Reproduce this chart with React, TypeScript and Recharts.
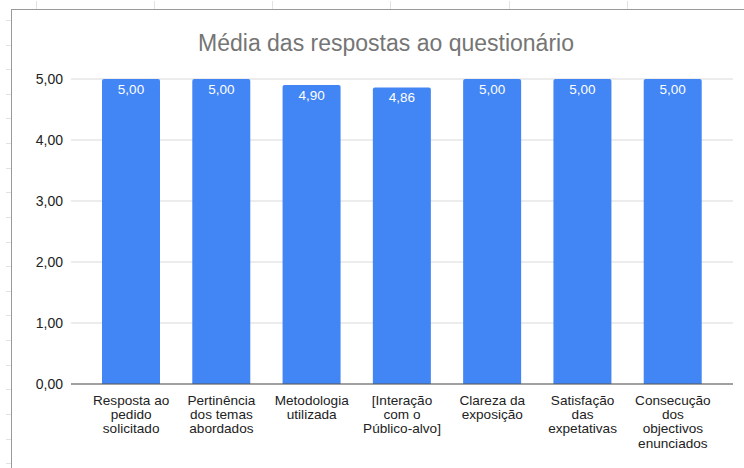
import { BarChart, Bar, XAxis, YAxis, CartesianGrid, LabelList } from "recharts";

const categories = [
  "Resposta ao\npedido\nsolicitado",
  "Pertinência\ndos temas\nabordados",
  "Metodologia\nutilizada",
  "[Interação\ncom o\nPúblico-alvo]",
  "Clareza da\nexposição",
  "Satisfação\ndas\nexpetativas",
  "Consecução\ndos\nobjectivos\nenunciados",
];
const averages = [5, 5, 4.9, 4.86, 5, 5, 5];
const yTicks = [0, 1, 2, 3, 4, 5];

const data = categories.map((name, i) => ({ name, value: averages[i] }));

const font = "Arial, 'Liberation Sans', sans-serif";
const fmt = (v: number) => v.toFixed(2).replace(".", ",");

function CategoryTick(props: any) {
  const { x, y, payload } = props;
  const lines = String(payload.value).split("\n");
  return (
    <text x={x} y={y + 9} textAnchor="middle" fontSize={13.6} fill="#222" fontFamily={font}>
      {lines.map((l, i) => (
        <tspan key={i} x={x} dy={i === 0 ? 4 : 14.2}>
          {l}
        </tspan>
      ))}
    </text>
  );
}

// spreadsheet cells peeking around the chart box
const colLines = [36, 154, 272, 390, 509, 627];
const rowLines = Array.from({ length: 19 }, (_, i) => 20 + i * 24.62);

export default function App() {
  return (
    <div style={{ position: "absolute", left: 0, top: 0, width: 744, height: 468, overflow: "hidden", background: "#fff" }}>
      {colLines.map((x) => (
        <div key={x} style={{ position: "absolute", left: x, top: 1, width: 1, height: 8, background: "#e2e2e2" }} />
      ))}
      {rowLines.map((y) => (
        <div key={y} style={{ position: "absolute", left: 6, top: Math.round(y), width: 6, height: 1, background: "#e2e2e2" }} />
      ))}
      <div
        style={{
          position: "absolute",
          left: 11,
          top: 9,
          width: 800,
          height: 500,
          border: "1.5px solid #999",
          background: "#fff",
        }}
      />
      <div
        style={{
          position: "absolute",
          left: 0,
          width: 772,
          top: 30,
          textAlign: "center",
          fontFamily: font,
          fontSize: 23,
          color: "#757575",
          lineHeight: "26px",
        }}
      >
        Média das respostas ao questionário
      </div>
      <div style={{ position: "absolute", left: 0, top: 0 }}>
        <BarChart width={744} height={468} data={data} margin={{ top: 79, right: 11, bottom: 0, left: 0 }} barSize={58}>
          <CartesianGrid vertical={false} stroke="#d9d9d9" />
          <XAxis
            dataKey="name"
            tick={<CategoryTick />}
            tickLine={false}
            axisLine={{ stroke: "#555" }}
            padding={{ left: 15, right: 15 }}
            height={84}
            interval={0}
          />
          <YAxis
            domain={[0, 5]}
            ticks={yTicks}
            tickFormatter={fmt}
            width={71}
            axisLine={false}
            tickLine={false}
            tickSize={0}
            tickMargin={8}
            tick={{ fontSize: 14, fill: "#222", fontFamily: font }}
          />
          <Bar dataKey="value" fill="#4285F4" radius={[2, 2, 0, 0]} isAnimationActive={false}>
            <LabelList
              dataKey="value"
              position="insideTop"
              offset={5}
              formatter={(v: any) => fmt(Number(v))}
              fill="#fff"
              fontSize={13.5}
              fontFamily={font}
            />
          </Bar>
        </BarChart>
      </div>
    </div>
  );
}
